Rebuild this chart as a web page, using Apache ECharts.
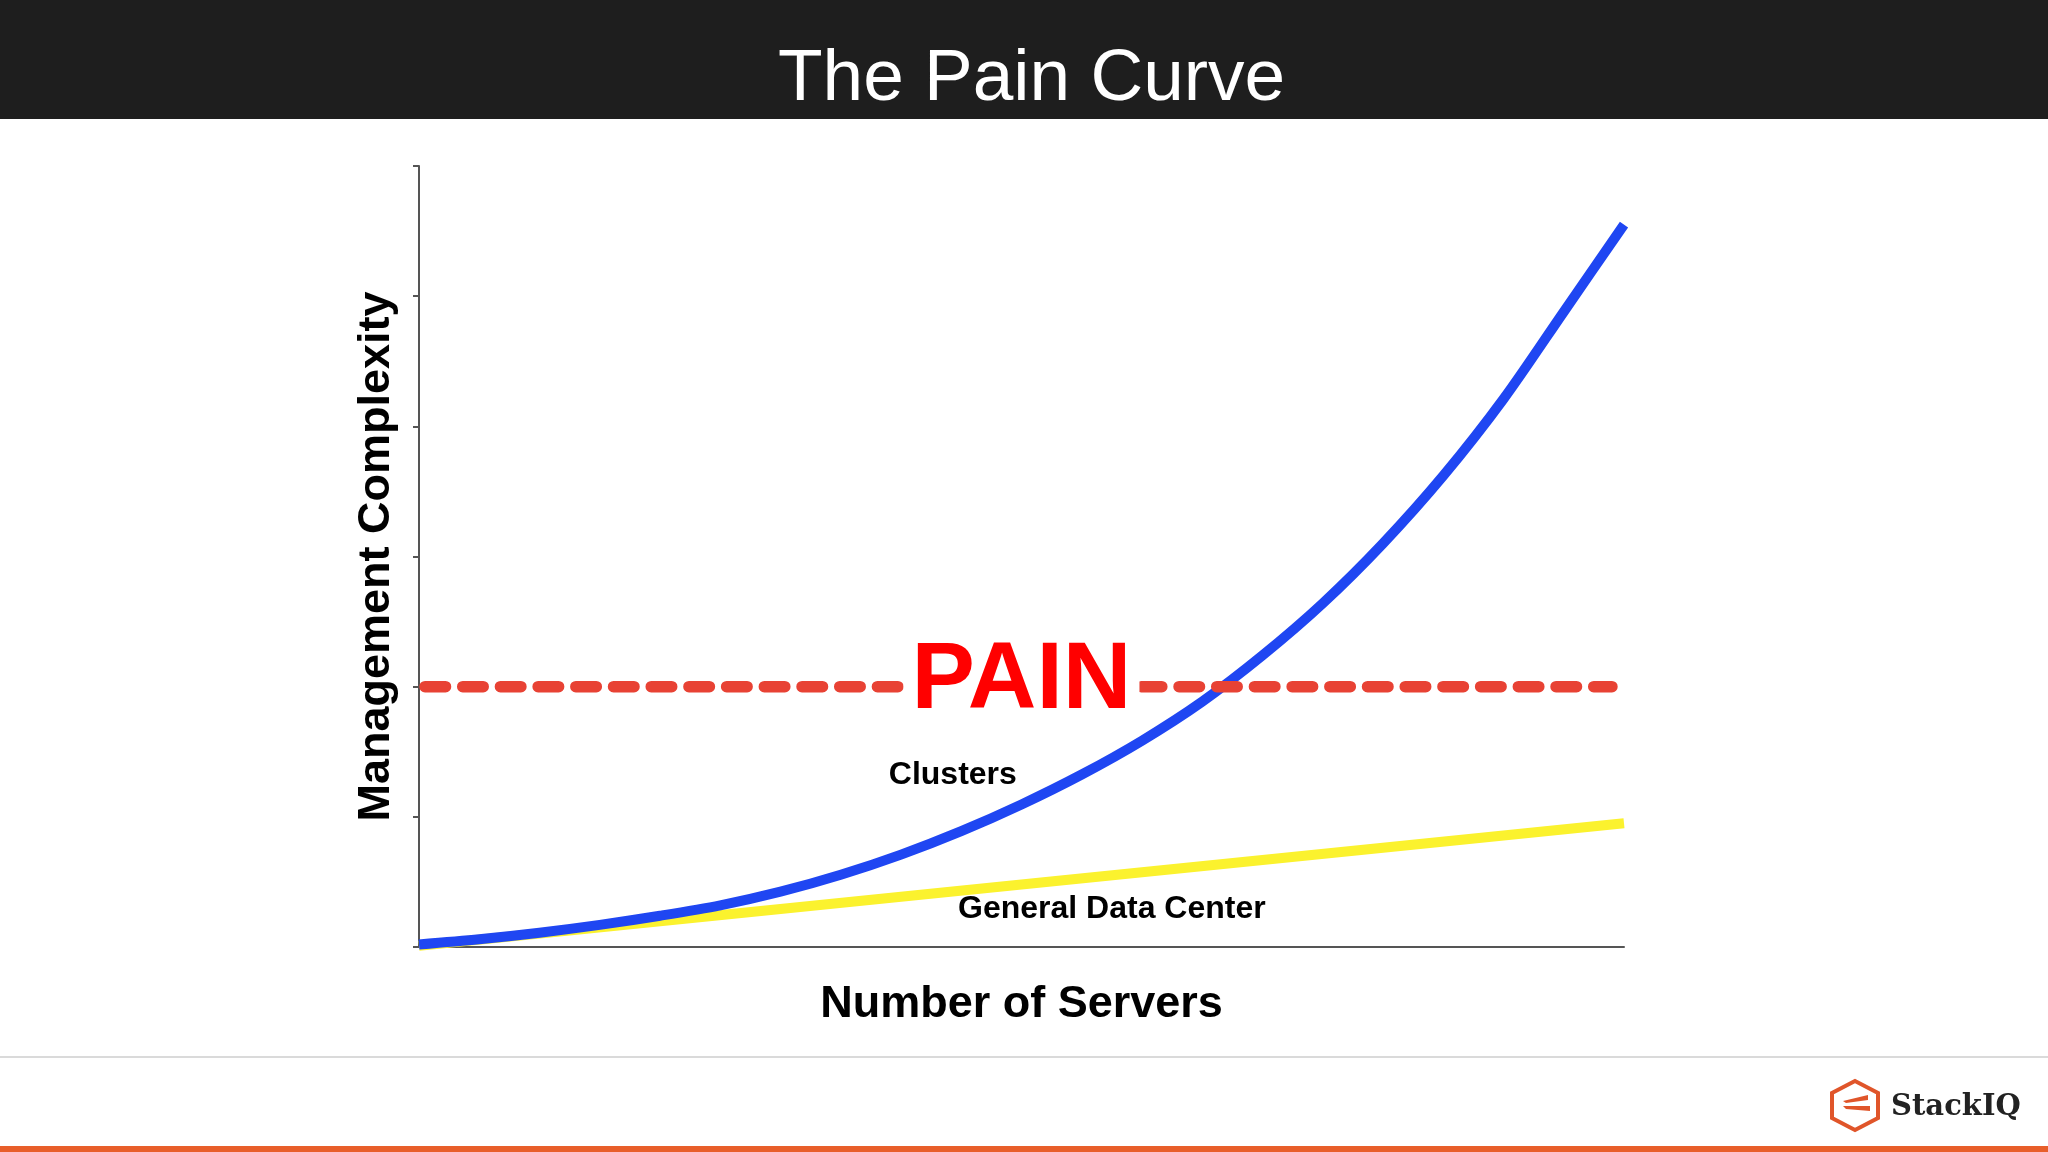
<!DOCTYPE html>
<html><head><meta charset="utf-8">
<script src="https://cdn.jsdelivr.net/npm/echarts@6/dist/echarts.min.js"></script>
<style>html,body{margin:0;padding:0;background:#fff}#c{width:2048px;height:1152px}</style>
</head><body><div id="c"></div>
<script>
// ---- data ----
const titleText = 'The Pain Curve';
const xAxisName = 'Number of Servers';
const yAxisName = 'Management Complexity';
const yTickValues = [0, 1, 2, 3, 4, 5, 6];

const clusterX = [0, 5, 10, 15, 20, 25, 30, 35, 40, 45, 50, 55, 60, 65, 70, 75, 80, 85, 90, 95, 100];
const clusterY = [0.02, 0.06, 0.11, 0.17, 0.24, 0.32, 0.425, 0.555, 0.71, 0.89, 1.095, 1.325, 1.585, 1.885, 2.24, 2.64, 3.10, 3.62, 4.21, 4.88, 5.55];

const dataCenterX = [0, 100];
const dataCenterY = [0.01, 0.95];

const painX = [0.5, 99];
const painY = [2, 2];

const noteText = ['PAIN', 'Clusters', 'General Data Center'];
const noteX = [50, 44.3, 57.5];
const noteY = [2, 1.32, 0.29];

// ---- chart ----
const zip = (xs, ys) => xs.map((x, i) => [x, ys[i]]);
const FONT = 'Liberation Sans, Arial, Helvetica, sans-serif';

const noteStyles = [
  {color: '#ff0000', fontSize: 95, fontWeight: 'bold', backgroundColor: '#ffffff', padding: [0, 8], lineHeight: 95, offset: [0, -5]},
  {color: '#000000', fontSize: 32, fontWeight: 'bold', lineHeight: 32},
  {color: '#000000', fontSize: 32, fontWeight: 'bold', lineHeight: 32}
];

const chart = echarts.init(document.getElementById('c'), null, {renderer: 'canvas'});
chart.setOption({
  animation: false,
  backgroundColor: '#ffffff',
  textStyle: {fontFamily: FONT},
  title: {
    text: titleText,
    left: 778,
    top: 43,
    padding: 0,
    textStyle: {color: '#ffffff', fontSize: 73, fontWeight: 'normal', fontFamily: FONT, lineHeight: 73}
  },
  graphic: [
    {type: 'rect', z: -10, shape: {x: 0, y: 0, width: 2048, height: 119}, style: {fill: '#1e1e1e'}},
    {type: 'rect', z: -10, shape: {x: 0, y: 1056, width: 2048, height: 2}, style: {fill: '#dadada'}},
    {type: 'rect', z: -10, shape: {x: 0, y: 1146, width: 2048, height: 6}, style: {fill: '#e85e2a'}},
    {type: 'polygon', shape: {points: [[1855, 1081], [1878, 1093], [1878, 1118], [1855, 1130], [1832, 1118], [1832, 1093]]},
      style: {fill: 'none', stroke: '#e0552a', lineWidth: 4}},
    {type: 'polygon', shape: {points: [[1843, 1101], [1868, 1095], [1868, 1100], [1846, 1103]]}, style: {fill: '#e0552a'}},
    {type: 'polygon', shape: {points: [[1843, 1106], [1870, 1106], [1870, 1111], [1846, 1109]]}, style: {fill: '#e0552a'}},
    {type: 'text', style: {x: 1891, y: 1107, text: 'StackIQ', fill: '#222222', font: 'bold 29px "DejaVu Serif", serif', textVerticalAlign: 'middle'}}
  ],
  grid: {left: 419, right: 424, top: 166, bottom: 205, containLabel: false},
  xAxis: {
    type: 'value', min: 0, max: 100,
    name: xAxisName, nameLocation: 'middle', nameGap: 35,
    nameTextStyle: {fontSize: 45, fontWeight: 'bold', color: '#000', fontFamily: FONT, lineHeight: 45},
    axisLine: {show: true, lineStyle: {color: '#555', width: 2}},
    axisTick: {show: false}, axisLabel: {show: false}, splitLine: {show: false}
  },
  yAxis: {
    type: 'value', min: yTickValues[0], max: yTickValues[yTickValues.length - 1], interval: 1,
    name: yAxisName, nameLocation: 'middle', nameGap: 20,
    nameTextStyle: {fontSize: 45, fontWeight: 'bold', color: '#000', fontFamily: FONT, lineHeight: 45},
    axisLine: {show: true, lineStyle: {color: '#555', width: 2}},
    axisTick: {show: true, length: 6, lineStyle: {color: '#555', width: 2}},
    axisLabel: {show: false}, splitLine: {show: false}
  },
  series: [
    {
      name: 'General Data Center', type: 'line', z: 2, symbol: 'none',
      data: zip(dataCenterX, dataCenterY),
      lineStyle: {color: '#fbf22e', width: 10}
    },
    {
      name: 'Clusters', type: 'line', z: 3, symbol: 'none', smooth: 0.3,
      data: zip(clusterX, clusterY),
      lineStyle: {color: '#1f46f2', width: 10}
    },
    {
      name: 'Pain', type: 'line', z: 4, symbol: 'none',
      data: zip(painX, painY),
      lineStyle: {color: '#e84234', width: 11.5, type: [20.5, 17.2], cap: 'round'}
    },
    {
      name: 'Notes', type: 'scatter', z: 10, symbolSize: 0, silent: true,
      itemStyle: {opacity: 1},
      data: noteText.map((t, i) => ({
        value: [noteX[i], noteY[i]],
        label: Object.assign({show: true, position: 'inside', formatter: t, fontFamily: FONT, align: 'center', verticalAlign: 'middle', opacity: 1}, noteStyles[i])
      }))
    }
  ]
});
</script>
</body></html>
